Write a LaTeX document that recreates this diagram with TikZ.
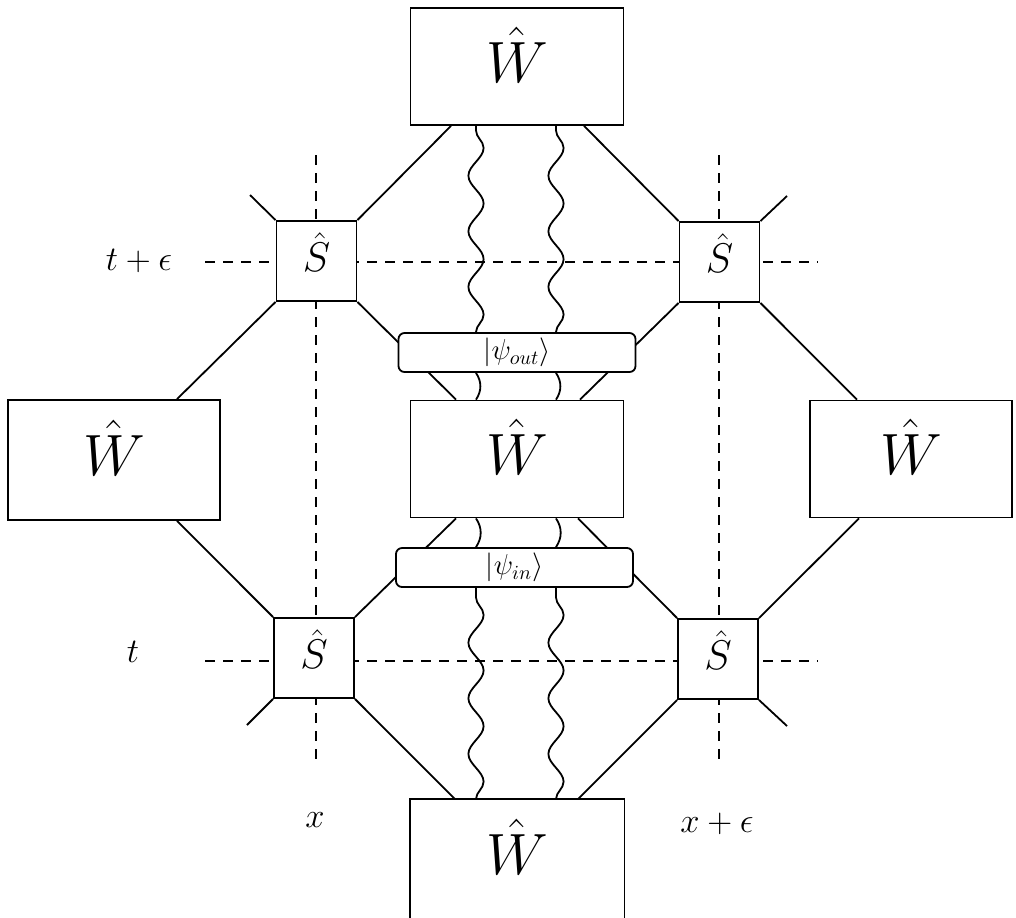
\documentclass[tikz,border=0pt]{standalone}
\usetikzlibrary{calc,decorations.pathmorphing,backgrounds}
\newcommand{\bigW}{\scalebox{1.17}{$\hat{W}$}}
\begin{document}
\begin{tikzpicture}[x=0.5pt,y=-0.5pt,
  every node/.style={inner sep=0pt},
  wbox/.style={draw, fill=white, line width=0.9pt, minimum width=106.5pt, minimum height=58.5pt, text depth=12pt, font=\Huge},
  sbox/.style={draw, fill=white, line width=0.9pt, minimum width=40pt, minimum height=40pt, text depth=9pt, font=\huge},
  psibox/.style={draw, fill=white, rounded corners=3pt, line width=0.9pt, minimum width=118.5pt, minimum height=19.5pt, font=\Large},
  lbl/.style={font=\LARGE},
  conn/.style={line width=0.9pt},
  dashline/.style={line width=0.9pt, dash pattern=on 5pt off 4pt},
  wave/.style={line width=0.9pt, decorate, decoration={snake, mirror, amplitude=3.8pt, segment length=27.8pt}},
  arcw/.style={line width=0.9pt, bend left=34},
]
\useasboundingbox (0,0) rectangle (1016,917);

% W boxes
\node[wbox] (Wt) at (517,66.5) {\bigW};
\node[wbox, minimum width=106pt, minimum height=60pt] (Wl) at (114,460) {\bigW};
\node[wbox] (Wc) at (517,459) {\bigW};
\node[wbox, minimum width=101pt] (Wr) at (911,459) {\bigW};
\node[wbox, draw=none] (Wb) at (517,858.5) {\bigW};
\draw[conn] ($(Wb.south west)+(0,30)$) -- (Wb.north west) -- (Wb.north east) -- ($(Wb.south east)+(0,30)$);

% S boxes
\node[sbox] (Stl) at (316.5,261) {$\hat{S}$};
\node[sbox] (Str) at (719.5,262) {$\hat{S}$};
\node[sbox] (Sbl) at (314,658) {$\hat{S}$};
\node[sbox] (Sbr) at (718,659) {$\hat{S}$};

% states
\node[psibox] (Po) at (517,352.5) {$|\psi_{out}\rangle$};
\node[psibox] (Pi) at (514.5,567.5) {$|\psi_{in}\rangle$};

% labels
\node[lbl] (lt1) at (139,261) {$t+\epsilon$};
\node[lbl] (lt) at (133,652) {$t$};
\node[lbl] (lx) at (315,820) {$x$};
\node[lbl] (lx1) at (717,824) {$x+\epsilon$};

% helper coordinates
\coordinate (w1) at (476,0);
\coordinate (w2) at (556,0);
\coordinate (h1a) at (205,262);
\coordinate (h1b) at (818,262);
\coordinate (h2a) at (205,661);
\coordinate (h2b) at (818,661);
\coordinate (v1a) at (316,155);
\coordinate (v1b) at (316,765);
\coordinate (v2a) at (719,155);
\coordinate (v2b) at (719,765);
\coordinate (e1) at (250,195);
\coordinate (e2) at (787,196);
\coordinate (e3) at (247,725);
\coordinate (e4) at (787,726);

\begin{scope}[on background layer]
  % wavy lines
  \foreach \w in {w1,w2}{
    \draw[wave] (Po.north -| \w) -- (Wt.south -| \w);
    \draw[arcw] (Po.south -| \w) to (Wc.north -| \w);
    \draw[arcw] (Wc.south -| \w) to (Pi.north -| \w);
    \draw[wave] (Wb.north -| \w) -- (Pi.south -| \w);
  }
  % straight connectors
  \draw[conn] (Stl.north east) -- ($(Wt.south)+(-66,0)$);
  \draw[conn] (Str.north west) -- ($(Wt.south)+(67,0)$);
  \draw[conn] (Stl.south east) -- ($(Wc.north)+(-61,0)$);
  \draw[conn] (Str.south west) -- ($(Wc.north)+(63,0)$);
  \draw[conn] (Stl.south west) -- ($(Wl.north)+(63,0)$);
  \draw[conn] (Str.south east) -- ($(Wr.north)+(-54,0)$);
  \draw[conn] ($(Wl.south)+(63,0)$) -- (Sbl.north west);
  \draw[conn] ($(Wc.south)+(-61,0)$) -- (Sbl.north east);
  \draw[conn] ($(Wc.south)+(61,0)$) -- (Sbr.north west);
  \draw[conn] ($(Wr.south)+(-52,0)$) -- (Sbr.north east);
  \draw[conn] (Sbl.south east) -- ($(Wb.north)+(-62,0)$);
  \draw[conn] (Sbr.south west) -- ($(Wb.north)+(61,0)$);
  % stubs
  \draw[conn] (Stl.north west) -- (e1);
  \draw[conn] (Str.north east) -- (e2);
  \draw[conn] (Sbl.south west) -- (e3);
  \draw[conn] (Sbr.south east) -- (e4);
  % dashed grid
  \draw[dashline] (h1a) -- (h1b);
  \draw[dashline] (h2a) -- (h2b);
  \draw[dashline] (v1a) -- (v1b);
  \draw[dashline] (v2a) -- (v2b);
\end{scope}
\end{tikzpicture}
\end{document}
